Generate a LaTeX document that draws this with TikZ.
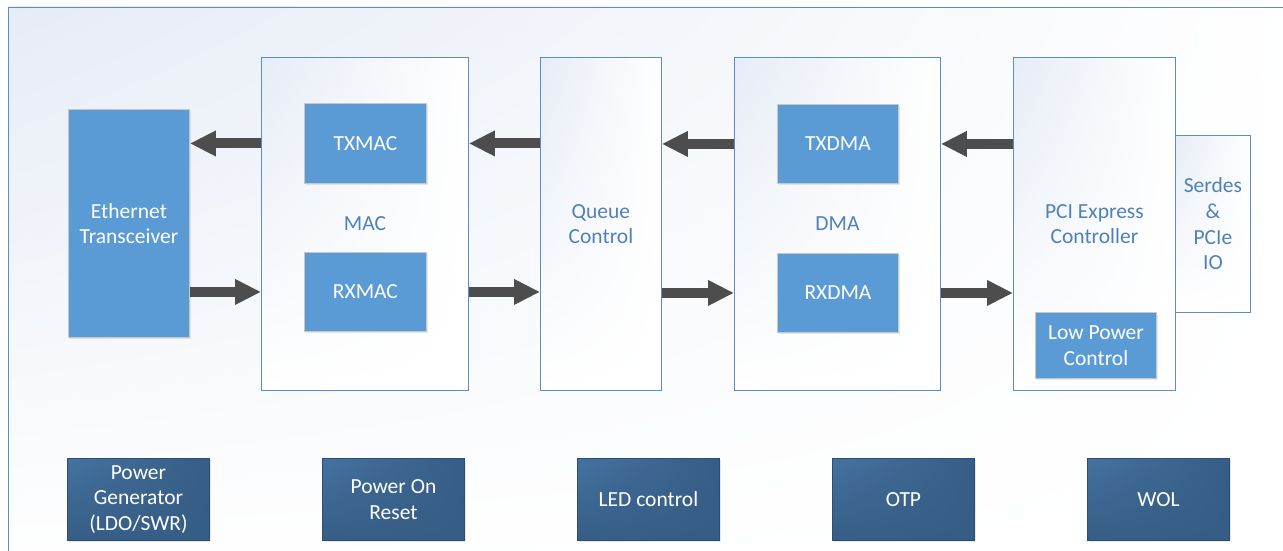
\documentclass[tikz,border=0pt]{standalone}
\usepackage{fontspec}
\setmainfont{Carlito}
\usetikzlibrary{arrows.meta,shadows,shadings}

\definecolor{frameblue}{RGB}{91,141,199}
\definecolor{boxblue}{RGB}{91,155,213}
\definecolor{textblue}{RGB}{79,129,189}
\definecolor{tintblue}{RGB}{230,236,246}
\definecolor{darkblue}{RGB}{54,93,133}
\definecolor{darkblueup}{RGB}{68,114,160}
\definecolor{darkedge}{RGB}{44,78,112}
\definecolor{arrowgray}{RGB}{77,77,77}

\begin{document}
\begin{tikzpicture}[x=1pt,y=-1pt,line width=0.9pt,
  font=\fontsize{21.5}{25.6}\selectfont,
  unit/.style={draw=frameblue,inner sep=0pt,anchor=north west,align=center,text=textblue,
    upper left=tintblue,upper right=white,lower left=white,lower right=white},
  subunit/.style={draw=black!22,fill=boxblue,inner sep=0pt,anchor=north west,align=center,text=white,
    drop shadow={opacity=0.18,shadow xshift=1.5pt,shadow yshift=-2pt}},
  misc/.style={draw=darkedge,inner sep=0pt,anchor=north west,align=center,text=white,
    minimum width=142pt,minimum height=82pt,
    upper left=darkblueup,upper right=darkblue,lower left=darkblue,lower right=darkblue,
    drop shadow={opacity=0.18,shadow xshift=1.5pt,shadow yshift=-2pt}},
  fatarrow/.style={draw=arrowgray,line width=10pt,-{Triangle[length=26pt,width=24pt]}}]
  \useasboundingbox (0,0) rectangle (1283,551);
  \clip (0,0) rectangle (1283,551);
  % --- chip frame ---
  \shade[upper left=tintblue,upper right=white,lower left=white,lower right=white] (8,7) rectangle (1300,570);
  \draw[frameblue] (8,7) rectangle (1300,570);
  % --- data path blocks ---
  \node[subunit,minimum width=121pt,minimum height=228pt] (eth) at (68,109) {Ethernet\\Transceiver};
  \node[unit,minimum width=207pt,minimum height=333pt] (mac) at (261,57) {MAC};
  \node[subunit,minimum width=122pt,minimum height=80pt] (txmac) at (304,103) {TXMAC};
  \node[subunit,minimum width=122pt,minimum height=79pt] (rxmac) at (304,252) {RXMAC};
  \node[unit,minimum width=121pt,minimum height=333pt] (queue) at (540,57) {Queue\\Control};
  \node[unit,minimum width=206pt,minimum height=333pt] (dma) at (734,57) {DMA};
  \node[subunit,minimum width=121pt,minimum height=79pt] (txdma) at (777,104) {TXDMA};
  \node[subunit,minimum width=121pt,minimum height=79pt] (rxdma) at (777,253) {RXDMA};
  \node[unit,minimum width=75pt,minimum height=177pt] (serdes) at (1175,135) {Serdes\\\&\\PCIe\\IO};
  \node[unit,minimum width=162pt,minimum height=333pt] (pcie) at (1013,57) {PCI Express\\Controller};
  \node[subunit,minimum width=121pt,minimum height=66pt] (lpc) at (1035,312) {Low Power\\Control};
  % --- transmit direction ---
  \draw[fatarrow] (mac.west |- txmac) -- (eth.east |- txmac);
  \draw[fatarrow] (queue.west |- txmac) -- (mac.east |- txmac);
  \draw[fatarrow] (dma.west |- txdma) -- (queue.east |- txdma);
  \draw[fatarrow] (pcie.west |- txdma) -- (dma.east |- txdma);
  % --- receive direction ---
  \draw[fatarrow] (eth.east |- rxmac) -- (mac.west |- rxmac);
  \draw[fatarrow] (mac.east |- rxmac) -- (queue.west |- rxmac);
  \draw[fatarrow] (queue.east |- rxdma) -- (dma.west |- rxdma);
  \draw[fatarrow] (dma.east |- rxdma) -- (pcie.west |- rxdma);
  % --- support blocks ---
  \node[misc] (pwr) at (67,458) {Power\\Generator\\(LDO/SWR)};
  \node[misc] (por) at (322,458) {Power On\\Reset};
  \node[misc] (led) at (577,458) {LED control};
  \node[misc] (otp) at (832,458) {OTP};
  \node[misc] (wol) at (1087,458) {WOL};
\end{tikzpicture}
\end{document}
